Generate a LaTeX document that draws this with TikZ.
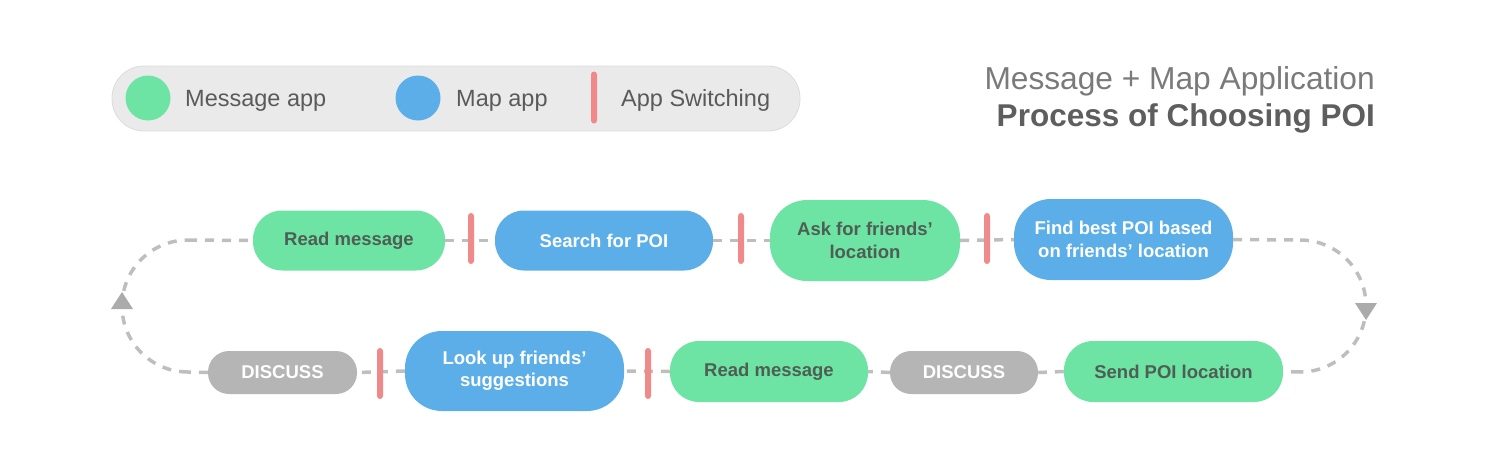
\documentclass[tikz,border=0pt]{standalone}
\usepackage{fontspec}
\setmainfont{Liberation Sans}
\usetikzlibrary{arrows.meta,decorations.markings}
\definecolor{cgreen}{HTML}{6EE4A4}
\definecolor{cblue}{HTML}{5BAEE8}
\definecolor{cred}{HTML}{F08A8A}
\definecolor{cgray}{HTML}{B5B5B5}
\definecolor{cdash}{HTML}{BEBEBE}
\definecolor{carrow}{HTML}{ABABAB}
\definecolor{gtext}{HTML}{4E5E54}
\definecolor{legbg}{HTML}{EAEAEA}
\definecolor{legline}{HTML}{DCDCDC}
\definecolor{ltext}{HTML}{5A5A5A}
\definecolor{ttext}{HTML}{7A7A7A}
\definecolor{btext}{HTML}{5E5E5E}
\tikzset{
  proc/.style={minimum height=60pt, rounded corners=29pt, inner sep=0pt, align=center,
    font=\fontsize{18.5}{22.5}\selectfont\bfseries},
  msgnode/.style={proc, fill=cgreen, text=gtext},
  mapnode/.style={proc, fill=cblue, text=white},
  discnode/.style={proc, fill=cgray, text=white, minimum height=43pt, rounded corners=21pt},
  tallnode/.style={minimum height=81pt, rounded corners=37pt},
  switchbar/.style={fill=cred, minimum width=6pt, minimum height=51pt, inner sep=0pt, rounded corners=3pt},
  conn/.style={draw=cdash, line width=3.5pt, dash pattern=on 9pt off 8pt},
  arrowmark/.style={postaction={decorate, decoration={markings, mark=at position 0.5 with {\arrow[xshift=14pt]{Triangle[length=17pt,width=22pt,line width=0pt,fill=carrow,color=carrow]}}}}},
  legtext/.style={anchor=base west, inner sep=0pt, text=ltext, font=\fontsize{23.5}{28}\selectfont},
}
\begin{document}
\begin{tikzpicture}[x=1pt,y=-1pt]
\useasboundingbox (0,0) rectangle (1500,464);
% legend
\node (leg) [fill=legbg, draw=legline, line width=0.8pt, rounded corners=32pt, minimum width=688pt, minimum height=65pt, inner sep=0pt] at (456,98.5) {};
\node (lgc) [circle, fill=cgreen, minimum size=45pt, inner sep=0pt] at (148,98) {};
\node (lgt) [legtext] at (185,106.5) {Message app};
\node (lbc) [circle, fill=cblue, minimum size=45pt, inner sep=0pt] at (418,98) {};
\node (lbt) [legtext] at (456,106.5) {Map app};
\node (lrb) [switchbar, minimum height=52pt] at (594,97.5) {};
\node (lrt) [legtext] at (621,106.5) {App Switching};
% title
\node (t1) [anchor=base east, inner sep=0pt, text=ttext, font=\fontsize{31.7}{36}\selectfont] at (1375,89) {Message + Map Application};
\node (t2) [anchor=base east, inner sep=0pt, text=btext, font=\fontsize{31.5}{36}\selectfont\bfseries] at (1375,126) {Process of Choosing POI};
% top row
\node (r1) [msgnode, minimum width=192pt] at (349,240.5) {Read message};
\node (s1) [mapnode, minimum width=218pt] at (604,240.5) {Search for POI};
\node (a1) [msgnode, tallnode, minimum width=190pt] at (865,240.5) {Ask for friends’\\location};
\node (f1) [mapnode, tallnode, minimum width=219pt] at (1123.5,239.5) {Find best POI based\\on friends’ location};
% bottom row
\node (d1) [discnode, minimum width=149pt] at (282.5,372.5) {DISCUSS};
\node (l1) [mapnode, tallnode, minimum width=219pt, minimum height=80pt] at (514.5,371) {Look up friends’\\suggestions};
\node (r2) [msgnode, minimum width=198pt, minimum height=61pt] at (769,371.5) {Read message};
\node (d2) [discnode, minimum width=148pt] at (964,372.5) {DISCUSS};
\node (p1) [msgnode, minimum width=219pt, minimum height=61pt] at (1173.5,371.5) {Send POI location};
% loop coordinates
\coordinate (rt) at (1300,240);
\coordinate (rb) at (1300,372);
\coordinate (lt) at (188,240);
\coordinate (lb) at (188,372);
% connectors
\draw[conn] (r1.east) -- (s1.west);
\draw[conn] (s1.east) -- (a1.west);
\draw[conn] (a1.east) -- (f1.west);
\draw[conn] (f1.east) -- (rt);
\draw[conn, arrowmark] (rt) .. controls (1336.5,240) and (1366,269.5) .. (1366,306) .. controls (1366,342.5) and (1336.5,372) .. (rb);
\draw[conn] (rb) -- (p1.east);
\draw[conn] (p1.west) -- (d2.east);
\draw[conn] (d2.west) -- (r2.east);
\draw[conn] (r2.west) -- (l1.east);
\draw[conn] (l1.west) -- (d1.east);
\draw[conn] (d1.west) -- (lb);
\draw[conn, arrowmark] (lb) .. controls (151.5,372) and (122,342.5) .. (122,306) .. controls (122,269.5) and (151.5,240) .. (lt);
\draw[conn] (lt) -- (r1.west);
% app switching bars
\node (b1) [switchbar] at (471,238.5) {};
\node (b2) [switchbar] at (741,238.5) {};
\node (b3) [switchbar] at (987,238.5) {};
\node (b4) [switchbar] at (380,373.5) {};
\node (b5) [switchbar] at (648,373.5) {};
\end{tikzpicture}
\end{document}
